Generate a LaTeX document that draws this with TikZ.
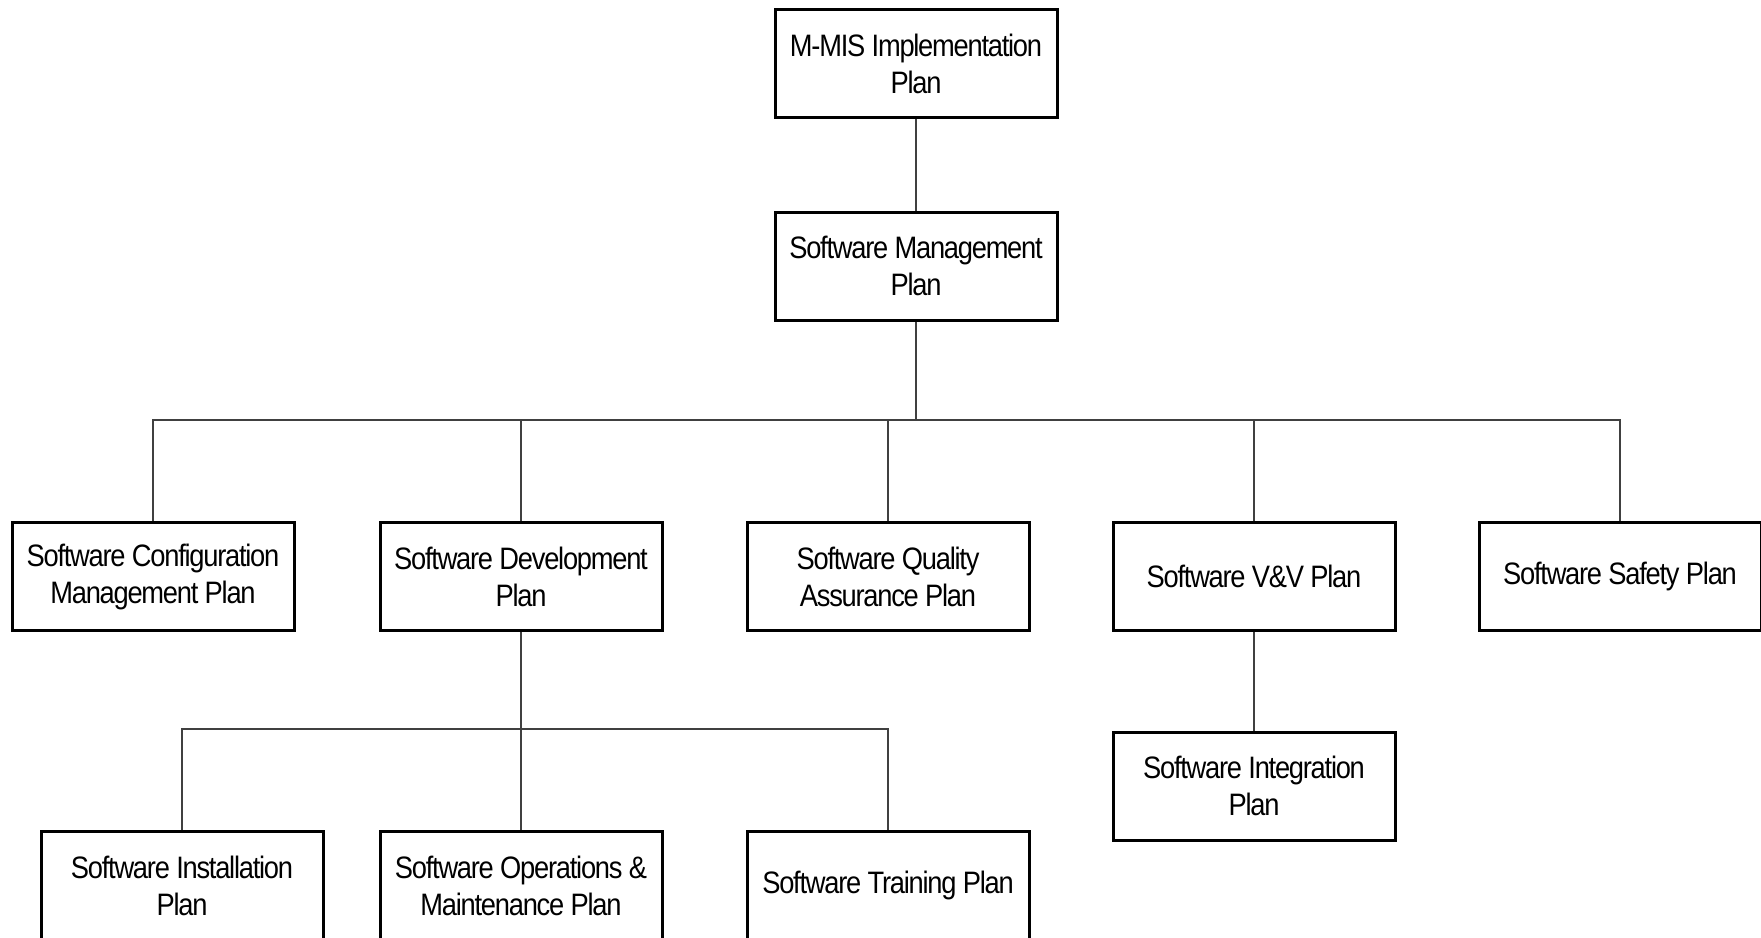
\documentclass[tikz,border=0pt]{standalone}
\usepackage{fontspec}
\setmainfont{Liberation Sans}[FakeStretch=0.88,LetterSpace=-4]
\begin{document}
\begin{tikzpicture}[x=1pt,y=-1pt,
  planbox/.style={draw=black,line width=3pt,fill=white,minimum width=282pt,
    minimum height=108pt,align=center,inner sep=0pt,
    font=\fontsize{31}{37}\selectfont},
  link/.style={draw=black!75,line width=1.4pt}]
\useasboundingbox (0,0) rectangle (1761,937);
% top of the hierarchy
\node[planbox] (root) at (916,63.5) {M-MIS Implementation\\Plan};
\node[planbox] (mgmt) at (916,266) {Software Management\\Plan};
% second level
\node[planbox] (cfg)  at (153,576.5)  {Software Configuration\\Management Plan};
\node[planbox] (dev)  at (521,576.5)  {Software Development\\Plan};
\node[planbox] (qa)   at (888,576.5)  {Software Quality\\Assurance Plan};
\node[planbox] (vv)   at (1254,576.5) {Software V\&V Plan};
\node[planbox] (safe) at (1620,576.5) {Software Safety Plan};
% third level
\node[planbox] (inst)  at (182,885.5) {Software Installation\\Plan};
\node[planbox] (ops)   at (521,885.5) {Software Operations \&\\Maintenance Plan};
\node[planbox] (train) at (888,885.5) {Software Training Plan};
\node[planbox] (integ) at (1254,786)  {Software Integration\\Plan};
% bus lines
\coordinate (bus1) at (916,420);
\coordinate (bus2) at (521,729);
\draw[link] (root) -- (mgmt);
\draw[link] (mgmt.south) -- (bus1);
\draw[link] (cfg.north) -- (cfg.north |- bus1) -- (safe.north |- bus1) -- (safe.north);
\draw[link] (dev.north) -- (dev.north |- bus1);
\draw[link] (qa.north) -- (qa.north |- bus1);
\draw[link] (vv.north) -- (vv.north |- bus1);
\draw[link] (dev.south) -- (bus2);
\draw[link] (inst.north) -- (inst.north |- bus2) -- (train.north |- bus2) -- (train.north);
\draw[link] (ops.north) -- (ops.north |- bus2);
\draw[link] (vv.south) -- (integ.north);
\end{tikzpicture}
\end{document}
